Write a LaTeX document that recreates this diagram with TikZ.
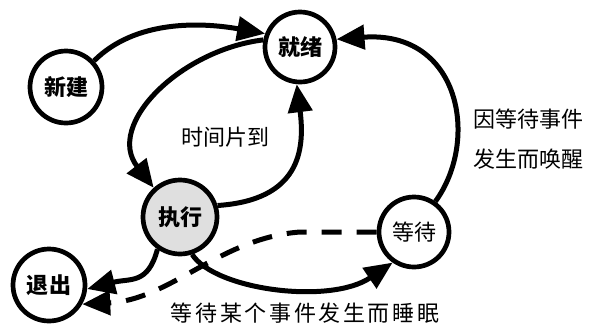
\documentclass[tikz,border=0pt]{standalone}
\usepackage{fontspec}
\newfontfamily\cjk{Noto Sans CJK SC}
\newfontfamily\cjkw[LetterSpace=12]{Noto Sans CJK SC}
\usetikzlibrary{arrows.meta}
\begin{document}
\begin{tikzpicture}[x=1pt,y=-1pt,
  state/.style={circle,draw,line width=4.7pt,minimum size=72pt,inner sep=0pt,
    font=\cjk\bfseries\fontsize{22}{22}\selectfont},
  flow/.style={line width=5pt,-{Triangle[length=28pt,width=24pt]}},
  lbl/.style={font=\cjk\fontsize{22}{22}\selectfont}]
\useasboundingbox (0,0) rectangle (591,325);
\node[state] (new) at (66,87) {新建};
\node[state,minimum size=70pt] (ready) at (300,47) {就绪};
\node[state,minimum size=74pt,fill=gray!25] (run) at (180,217) {执行};
\node[state] (exit) at (49,285) {退出};
\node[state,minimum size=70pt,font=\cjk\fontsize{22}{22}\selectfont] (wait) at (414,232) {等待};

\draw[flow] (new.43) .. controls (135,20) and (200,22) .. (ready.159);
\draw[flow] (ready.169) .. controls (180,50) and (105,125) .. (run.132);
\draw[flow] (run.17) .. controls (300,200) and (305,150) .. (ready.-95);
\draw[flow] (wait.55) .. controls (480,140) and (460,30) .. (ready.12);
\draw[flow] (run.-72) .. controls (215,290) and (330,305) .. (wait.-125);
\draw[flow] (run.-125) .. controls (148,285) and (130,278) .. (exit.-6);
\draw[flow,dash pattern=on 20pt off 15pt] (wait.180) -- (300,232) .. controls (220,238) and (170,300) .. (exit.-30);

\node[lbl] (tl) at (225,137) {时间片到};
\node[lbl] (w1) at (528,119) {因等待事件};
\node[lbl] (w2) at (528,159) {发生而唤醒};
\node[font=\cjkw\fontsize{22}{22}\selectfont] (sl) at (305,313) {等待某个事件发生而睡眠};
\end{tikzpicture}
\end{document}
